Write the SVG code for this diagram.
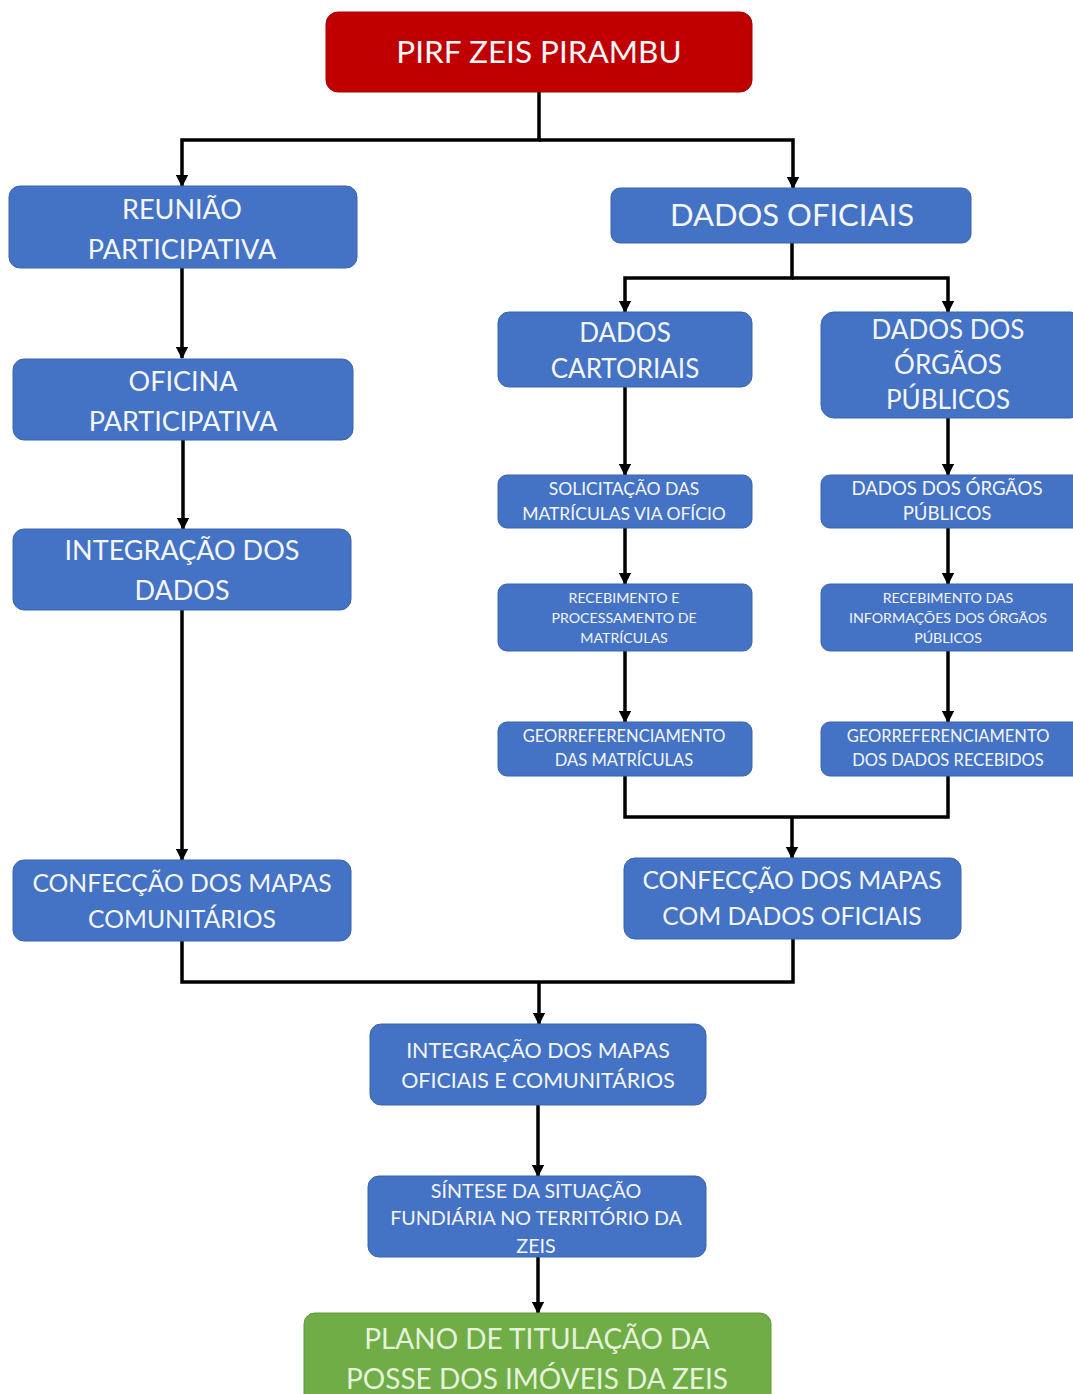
<svg xmlns="http://www.w3.org/2000/svg" width="1073" height="1394" viewBox="0 0 1073 1394">
<style>
.b{fill:#4472C4;stroke:#3A64AE;stroke-width:1}
.r{fill:#C00000;stroke:#A80000;stroke-width:1}
.g{fill:#70AD47;stroke:#5E9A3A;stroke-width:1}
text{font-family:Lato,"Open Sans","Liberation Sans",sans-serif;fill:#F4F6FB;text-anchor:middle}
.gt{fill:#E6F2DC}
.c{fill:none;stroke:#000;stroke-width:3.5}
</style>
<defs>
<marker id="ah" viewBox="0 0 10 10" refX="9" refY="5" markerWidth="3.6" markerHeight="3.6" orient="auto" markerUnits="strokeWidth">
<path d="M0,0 L10,5 L0,10 z" fill="#000"/>
</marker>
</defs>
<rect width="1073" height="1394" fill="#fff"/>
<g id="connectors">
<path class="c" d="M539,92 V140 H182 V186" marker-end="url(#ah)"/>
<path class="c" d="M539,140 H793 V188" marker-end="url(#ah)"/>
<path class="c" d="M182,268 V358" marker-end="url(#ah)"/>
<path class="c" d="M183,440 V529" marker-end="url(#ah)"/>
<path class="c" d="M182,610 V860" marker-end="url(#ah)"/>
<path class="c" d="M792,243 V278 H625 V312" marker-end="url(#ah)"/>
<path class="c" d="M792,278 H948 V312" marker-end="url(#ah)"/>
<path class="c" d="M625,387 V475" marker-end="url(#ah)"/>
<path class="c" d="M948,418 V475" marker-end="url(#ah)"/>
<path class="c" d="M625,528 V584" marker-end="url(#ah)"/>
<path class="c" d="M948,528 V584" marker-end="url(#ah)"/>
<path class="c" d="M625,651 V722" marker-end="url(#ah)"/>
<path class="c" d="M948,651 V722" marker-end="url(#ah)"/>
<path class="c" d="M625,776 V817 H948 V776"/>
<path class="c" d="M792,817 V858" marker-end="url(#ah)"/>
<path class="c" d="M182,941 V982 H793 V939"/>
<path class="c" d="M539,982 V1024" marker-end="url(#ah)"/>
<path class="c" d="M538,1105 V1176" marker-end="url(#ah)"/>
<path class="c" d="M538,1257 V1313" marker-end="url(#ah)"/>
</g>
<g id="pirf"><rect class="r" x="326" y="12" width="426" height="80" rx="12"/><text x="539" y="63" font-size="31.5">PIRF ZEIS PIRAMBU</text></g>
<g id="reuniao"><rect class="b" x="9" y="186" width="348" height="82" rx="11"/><text x="182" y="219" font-size="27">REUNIÃO</text><text x="182" y="259" font-size="27">PARTICIPATIVA</text></g>
<g id="oficina"><rect class="b" x="13" y="359" width="340" height="81" rx="11"/><text x="183" y="391" font-size="27">OFICINA</text><text x="183" y="431" font-size="27">PARTICIPATIVA</text></g>
<g id="integracao-dados"><rect class="b" x="13" y="529" width="338" height="81" rx="11"/><text x="182" y="560" font-size="27">INTEGRAÇÃO DOS</text><text x="182" y="600" font-size="27">DADOS</text></g>
<g id="confeccao-comunitarios"><rect class="b" x="13" y="860" width="338" height="81" rx="11"/><text x="182" y="892" font-size="24.7">CONFECÇÃO DOS MAPAS</text><text x="182" y="928" font-size="24.7">COMUNITÁRIOS</text></g>
<g id="dados-oficiais"><rect class="b" x="611" y="188" width="360" height="55" rx="9"/><text x="792" y="226" font-size="31">DADOS OFICIAIS</text></g>
<g id="dados-cartoriais"><rect class="b" x="498" y="312" width="254" height="75" rx="11"/><text x="625" y="342" font-size="26">DADOS</text><text x="625" y="378" font-size="26">CARTORIAIS</text></g>
<g id="dados-orgaos"><rect class="b" x="821" y="312" width="262" height="106" rx="13"/><text x="948" y="339" font-size="26">DADOS DOS</text><text x="948" y="374" font-size="26">ÓRGÃOS</text><text x="948" y="409" font-size="26">PÚBLICOS</text></g>
<g id="solicitacao"><rect class="b" x="498" y="475" width="254" height="53" rx="9"/><text x="624" y="495" font-size="17.5">SOLICITAÇÃO DAS</text><text x="624" y="520" font-size="17.5">MATRÍCULAS VIA OFÍCIO</text></g>
<g id="dados-orgaos-2"><rect class="b" x="821" y="475" width="262" height="53" rx="9"/><text x="947" y="495" font-size="18.6">DADOS DOS ÓRGÃOS</text><text x="947" y="520" font-size="18.6">PÚBLICOS</text></g>
<g id="recebimento-matriculas"><rect class="b" x="498" y="584" width="254" height="67" rx="9"/><text x="624" y="603" font-size="14.2">RECEBIMENTO E</text><text x="624" y="623" font-size="14.2">PROCESSAMENTO DE</text><text x="624" y="643" font-size="14.2">MATRÍCULAS</text></g>
<g id="recebimento-orgaos"><rect class="b" x="821" y="584" width="262" height="67" rx="9"/><text x="948" y="603" font-size="14.2">RECEBIMENTO DAS</text><text x="948" y="623" font-size="14.2">INFORMAÇÕES DOS ÓRGÃOS</text><text x="948" y="643" font-size="14.2">PÚBLICOS</text></g>
<g id="georref-matriculas"><rect class="b" x="498" y="722" width="254" height="54" rx="9"/><text x="624" y="742" font-size="16.5">GEORREFERENCIAMENTO</text><text x="624" y="766" font-size="16.5">DAS MATRÍCULAS</text></g>
<g id="georref-dados"><rect class="b" x="821" y="722" width="262" height="54" rx="9"/><text x="948" y="742" font-size="16.5">GEORREFERENCIAMENTO</text><text x="948" y="766" font-size="16.5">DOS DADOS RECEBIDOS</text></g>
<g id="confeccao-oficiais"><rect class="b" x="624" y="858" width="337" height="81" rx="11"/><text x="792" y="889" font-size="24.7">CONFECÇÃO DOS MAPAS</text><text x="792" y="925" font-size="24.7">COM DADOS OFICIAIS</text></g>
<g id="integracao-mapas"><rect class="b" x="370" y="1024" width="336" height="81" rx="11"/><text x="538" y="1058" font-size="21.4">INTEGRAÇÃO DOS MAPAS</text><text x="538" y="1088" font-size="21.4">OFICIAIS E COMUNITÁRIOS</text></g>
<g id="sintese"><rect class="b" x="368" y="1176" width="338" height="81" rx="11"/><text x="536" y="1198" font-size="19.7">SÍNTESE DA SITUAÇÃO</text><text x="536" y="1225" font-size="19.7">FUNDIÁRIA NO TERRITÓRIO DA</text><text x="536" y="1253" font-size="19.7">ZEIS</text></g>
<g id="plano"><rect class="g" x="304" y="1313" width="467" height="100" rx="11"/><text class="gt" x="537" y="1349" font-size="28">PLANO DE TITULAÇÃO DA</text><text class="gt" x="537" y="1389" font-size="28">POSSE DOS IMÓVEIS DA ZEIS</text></g>
</svg>
